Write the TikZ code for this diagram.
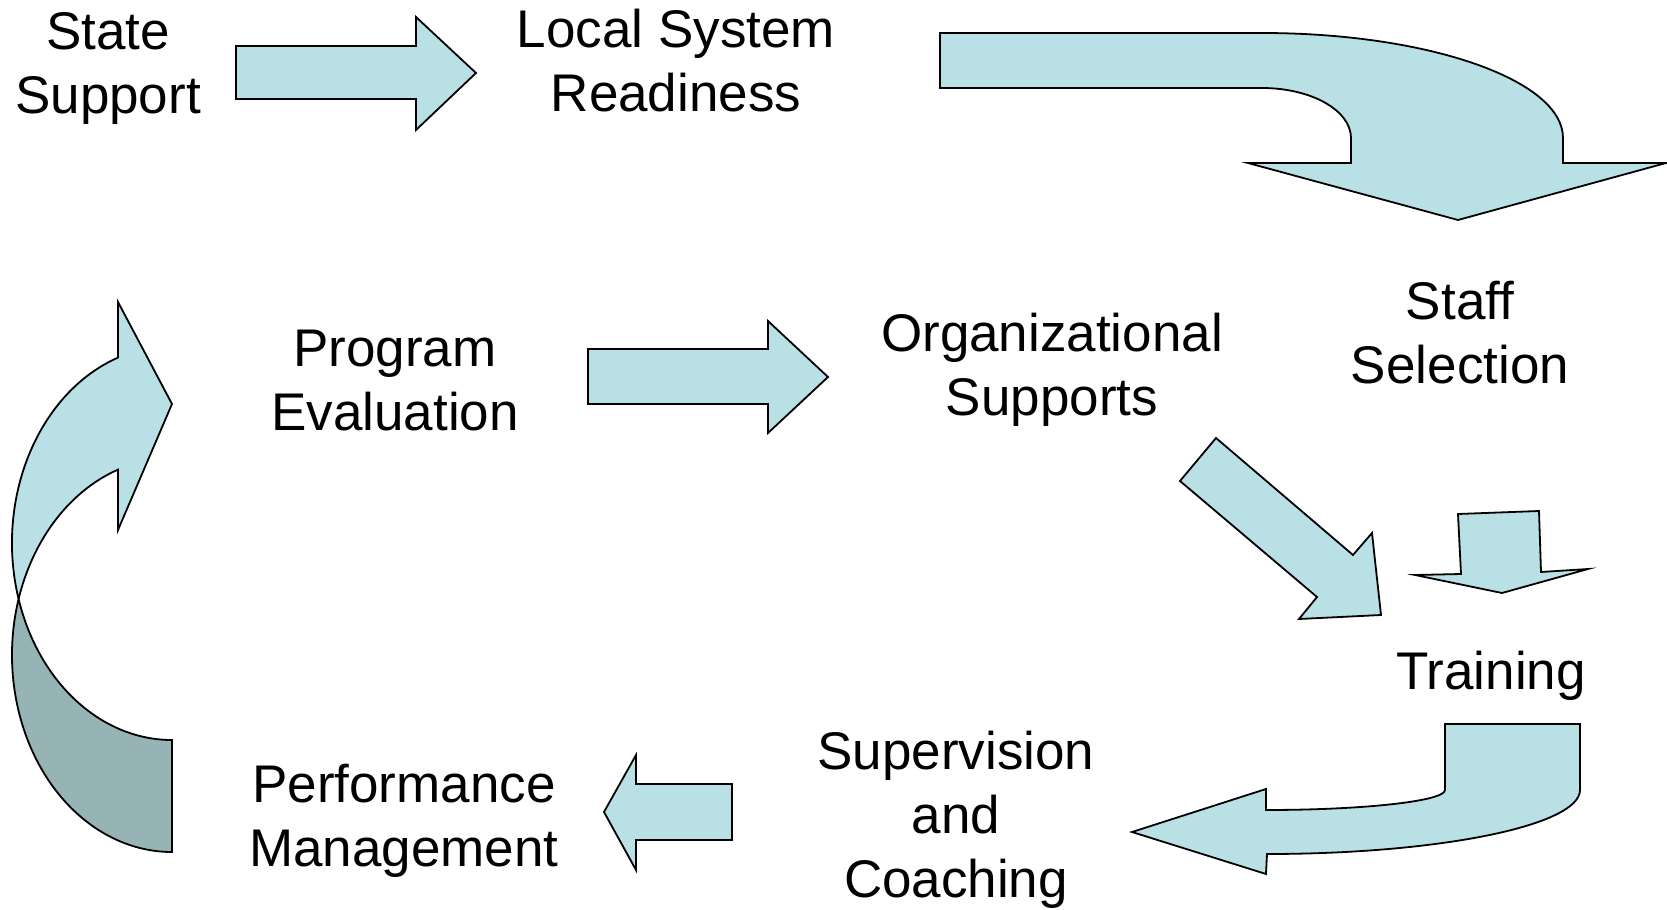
\documentclass[tikz,border=0pt]{standalone}
\usepackage{fontspec}
\setmainfont{Liberation Sans}
\definecolor{arrowfill}{RGB}{185,224,228}
\definecolor{arrowdark}{RGB}{150,180,181}
\begin{document}
\begin{tikzpicture}[x=0.5pt,y=-0.5pt,
  blockarrow/.style={fill=arrowfill,draw=black,line width=0.9pt,line join=miter},
  backarrow/.style={fill=arrowdark,draw=black,line width=0.9pt},
  label/.style={align=center,inner sep=0pt,font=\fontsize{26.5}{32}\selectfont}]
\useasboundingbox (0,0) rectangle (1667,910);

% text nodes
\node[label] (state) at (108,68) {State\\Support};
\node[label] (local) at (676,61) {Local System\\Readiness};
\node[label] (prog) at (395,381) {Program\\Evaluation};
\node[label] (org) at (1052,370) {Organizational\\Supports};
\node[label] (staff) at (1460,333) {Staff\\Selection};
\node[label] (train) at (1491,676) {Training};
\node[label] (sup) at (956,820) {Supervision\\and\\Coaching};
\node[label] (perf) at (404,821) {Performance\\Management};

% State -> Local
\draw[blockarrow] (236,46) -- (416,46) -- (416,17) -- (476,73) -- (416,130) -- (416,99) -- (236,99) -- cycle;
% Program -> Organizational
\draw[blockarrow] (588,349) -- (768,349) -- (768,321) -- (828,377) -- (768,433) -- (768,404) -- (588,404) -- cycle;
% Supervision -> Performance
\draw[blockarrow] (732,784) -- (636,784) -- (636,755) -- (604,812) -- (636,870) -- (636,840) -- (732,840) -- cycle;
% Organizational -> Training (diagonal)
\draw[blockarrow] (1216,438) -- (1353,555) -- (1372,533) -- (1381,615) -- (1299,619) -- (1317,597) -- (1180,481) -- cycle;
% Staff -> Training (small down)
\draw[blockarrow] (1458,514) -- (1539,511) -- (1541,572) -- (1588,569) -- (1502,593) -- (1415,575) -- (1461,574) -- cycle;
% Local -> Staff (curved)
\draw[blockarrow] (940,33) -- (1262,33)
  arc[start angle=270,end angle=360,x radius=301,y radius=105]
  -- (1563,163) -- (1666,163) -- (1458,220) -- (1248,163) -- (1351,163) -- (1351,138)
  arc[start angle=0,end angle=-90,x radius=89,y radius=50]
  -- (940,88) -- cycle;
% Training -> Supervision (curved)
\draw[blockarrow] (1445,724) -- (1580,724) -- (1580,790)
  arc[start angle=0,end angle=90,x radius=313,y radius=64]
  -- (1266,874) -- (1132,832) -- (1266,789) -- (1266,810)
  arc[start angle=90,end angle=0,x radius=179,y radius=20]
  -- cycle;
% Performance -> Program (curved up)
\draw[backarrow] (18.6,599)
  arc[start angle=196.52,end angle=90,x radius=160,y radius=197]
  -- (172,740)
  arc[start angle=90,end angle=163.48,x radius=160,y radius=197]
  -- cycle;
\draw[blockarrow] (118,357.6)
  arc[start angle=250.28,end angle=163.48,x radius=160,y radius=197]
  arc[start angle=196.52,end angle=250.28,x radius=160,y radius=197]
  -- (118,530) -- (172,404) -- (118,302) -- cycle;
\end{tikzpicture}
\end{document}
